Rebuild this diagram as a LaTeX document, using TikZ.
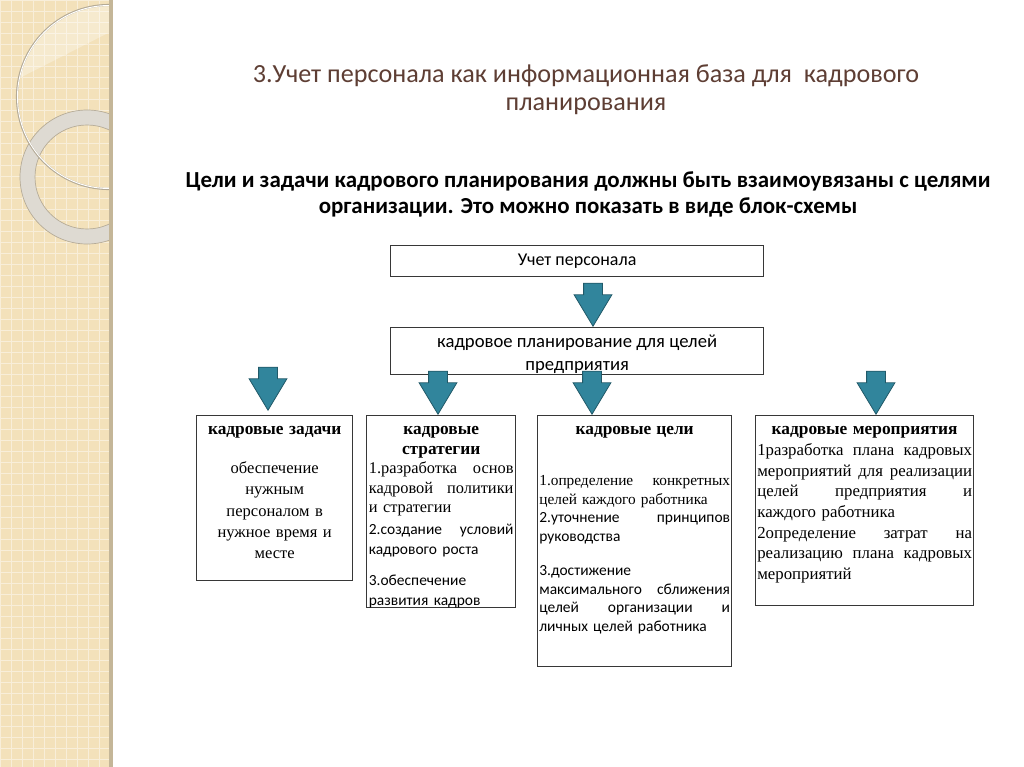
\documentclass[tikz,border=0pt]{standalone}
\usepackage{fontspec}
\setmainfont{Liberation Serif}
\newfontfamily\calibri{Carlito}
\usepackage{xcolor}
\usepackage{tikz}
\usetikzlibrary{shapes.arrows,positioning}
\definecolor{stripe}{RGB}{243,225,186}
\definecolor{stripeedge}{RGB}{196,182,152}
\definecolor{ringgrey}{RGB}{222,218,210}
\definecolor{ringedge}{RGB}{180,170,150}
\definecolor{titlebrown}{RGB}{94,62,52}
\definecolor{arrowteal}{RGB}{49,133,156}
\definecolor{arrowedge}{RGB}{33,89,104}
\definecolor{boxline}{RGB}{55,55,55}
\newcommand{\calsmall}{\calibri\fontsize{11.6}{14}\selectfont}
\newcommand{\boxhead}{\bfseries\fontsize{13}{14.5}\selectfont}
\newcommand{\leftrow}[1]{\makebox[\hsize][l]{#1}}
\tikzset{
  box/.style={draw=boxline, line width=1pt, rectangle, anchor=north west, inner sep=0pt},
  boxtext/.style={inner sep=0pt, align=center},
  blockarrow/.style={single arrow, draw=arrowedge, fill=arrowteal, line width=0.6pt, rotate=-90,
    minimum height=32.25pt, inner xsep=0pt, inner ysep=6.75pt, single arrow head extend=7.1pt,
    single arrow tip angle=62, anchor=tip}
}

\begin{document}
\begin{tikzpicture}[x=0.75pt, y=-0.75pt]
        \useasboundingbox (0,0) rectangle (1024,767);
        \fill[white] (0,0) rectangle (1024,767);
        % Left decorative stripe
        \fill[stripe] (0,0) rectangle (110,767);
        \draw[white, opacity=0.45, line width=0.7pt, step=8.25pt] (0,0) grid (110,767);
        \begin{scope}
          \clip (0,0) rectangle (110,767);
          \fill[ringgrey, even odd rule] (87,177) circle[radius=67] (87,177) circle[radius=52];
          \draw[ringedge, line width=0.5pt] (87,177) circle[radius=67] (87,177) circle[radius=52];
          \begin{scope}
            \clip (109,97) circle[radius=92];
            \fill[white, opacity=0.3] (0,0) -- (0,88) -- (110,32) -- (110,0) -- cycle;
          \end{scope}
          \draw[ringedge, line width=1.6pt] (109,97) circle[radius=92];
          \draw[white, line width=0.7pt] (109,97) circle[radius=91.5];
        \end{scope}
        \fill[stripeedge] (109,0) rectangle (113,767);

        % Titles
        \node[font=\calibri\fontsize{19.6}{21}\selectfont, text=titlebrown, align=center] (title) at (586,90) {3.Учет персонала как информационная база для\ \ кадрового\\планирования};
        \node[font=\calibri\bfseries\fontsize{17.2}{19.5}\selectfont, align=center] (subtitle) at (588,194) {Цели и задачи кадрового планирования должны быть взаимоувязаны с целями\\организации. Это можно показать в виде блок-схемы};

        % Top boxes
        \node[box, minimum width=279.75pt, minimum height=23.25pt, font=\calibri\fontsize{13.5}{16}\selectfont] (uchet) at (390,245) {Учет персонала};
        \node[box, minimum width=279.75pt, minimum height=35.25pt] (plan) at (390,327) {};
        \node[boxtext, font=\calibri\fontsize{14}{17}\selectfont] (planText) at ([yshift=-2.5pt]plan.center) {кадровое планирование для целей\\предприятия};

        % Bottom boxes
        \node[box, minimum width=117pt, minimum height=123.75pt] (zadachi) at (196,415) {};
        \node[box, minimum width=111.75pt, minimum height=144pt] (strategii) at (366,415) {};
        \node[box, minimum width=145.5pt, minimum height=188.25pt] (celi) at (537,415) {};
        \node[box, minimum width=163.5pt, minimum height=142.5pt] (meropr) at (755,415) {};

        % Box texts
        \node[boxtext, text width=113pt, below=8.5pt of zadachi.north, font=\fontsize{12.4}{16}\selectfont] (zadachiText) {{\boxhead кадровые задачи}\\[13pt]обеспечение\\нужным\\персоналом в\\нужное время и\\месте};
        \node[boxtext, text width=108.5pt, below=8.5pt of strategii.north, font=\fontsize{12.3}{14.6}\selectfont] (strategiiText) {{\boxhead кадровые\\стратегии}\\
          1.разработка\hfill основ\\
          кадровой\hfill политики\\
          \leftrow{и стратегии}\\[2pt]
          {\calsmall 2.создание\hfill условий}\\
          \leftrow{\calsmall кадрового роста}\\[9pt]
          \leftrow{\calsmall 3.обеспечение}\\
          \leftrow{\calsmall развития кадров}};
        \node[boxtext, text width=143pt, below=8.5pt of celi.north, font=\fontsize{11.5}{14}\selectfont] (celiText) {{\boxhead кадровые цели}\\[24pt]
          1.определение\hfill конкретных\\
          \leftrow{целей каждого работника}\\
          {\calsmall 2.уточнение\hfill принципов}\\
          \leftrow{\calsmall руководства}\\[11.5pt]
          \leftrow{\calsmall 3.достижение}\\
          {\calsmall максимального\hfill сближения}\\
          {\calsmall целей\hfill организации\hfill и}\\
          \leftrow{\calsmall личных целей работника}};
        \node[boxtext, text width=161pt, below=8.5pt of meropr.north, font=\fontsize{12.6}{15.5}\selectfont] (meroprText) {{\boxhead кадровые мероприятия}\\
          1разработка\hfill плана\hfill кадровых\\
          мероприятий\hfill для\hfill реализации\\
          целей\hfill предприятия\hfill и\\
          \leftrow{каждого работника}\\
          2определение\hfill затрат\hfill на\\
          реализацию\hfill плана\hfill кадровых\\
          \leftrow{мероприятий}};

        % Block arrows
        \node[blockarrow] (arrPlan) at (593,327) {};
        \node[blockarrow] (arrZadachi) at (268,411) {};
        \node[blockarrow] (arrStrategii) at (438,415) {};
        \node[blockarrow] (arrCeli) at (592,415) {};
        \node[blockarrow] (arrMeropr) at (876,415) {};
    \end{tikzpicture}
\end{document}
